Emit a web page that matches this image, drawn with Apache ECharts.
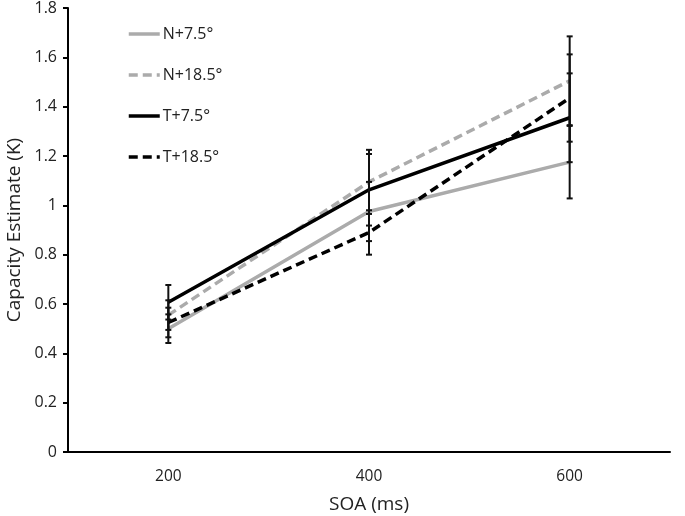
<!DOCTYPE html>
<html><head><meta charset="utf-8">
<script src="https://cdn.jsdelivr.net/npm/echarts@6/dist/echarts.min.js"></script>
<style>html,body{margin:0;padding:0;background:#fff}#c{width:685px;height:516px}</style>
</head><body><div id="c"></div>
<script>
var categories = ['200', '400', '600'];
var seriesNames = ['N+7.5°', 'N+18.5°', 'T+7.5°', 'T+18.5°'];
var n75 = [0.50, 0.975, 1.175];
var n185 = [0.555, 1.095, 1.505];
var t75 = [0.607, 1.063, 1.355];
var t185 = [0.525, 0.89, 1.435];
var n75Err = [0.058, 0.12, 0.147];
var n185Err = [0.06, 0.13, 0.18];
var t75Err = [0.07, 0.145, 0.18];
var t185Err = [0.06, 0.09, 0.177];
var yTicks = [0, 0.2, 0.4, 0.6, 0.8, 1, 1.2, 1.4, 1.6, 1.8];

var FONT = 'Open Sans';
var GRAY = '#ababab';
var means = [n75, n185, t75, t185];
var errs = [n75Err, n185Err, t75Err, t185Err];
var colors = [GRAY, GRAY, '#000', '#000'];
var types = ['solid', [9, 5], 'solid', [9, 5]];

var errData = [];
for (var s = 0; s < 4; s++) {
  for (var i = 0; i < categories.length; i++) {
    errData.push([i, means[s][i] - errs[s][i], means[s][i] + errs[s][i]]);
  }
}

var series = [];
series.push({
  type: 'custom',
  name: 'err',
  z: 5,
  data: errData,
  renderItem: function (params, api) {
    var x = api.value(0);
    var lo = api.coord([x, api.value(1)]);
    var hi = api.coord([x, api.value(2)]);
    var w = 3;
    var st = {stroke: '#111', lineWidth: 2};
    return {type: 'group', children: [
      {type: 'line', shape: {x1: lo[0], y1: lo[1], x2: hi[0], y2: hi[1]}, style: st},
      {type: 'line', shape: {x1: lo[0] - w, y1: lo[1], x2: lo[0] + w, y2: lo[1]}, style: st},
      {type: 'line', shape: {x1: hi[0] - w, y1: hi[1], x2: hi[0] + w, y2: hi[1]}, style: st}
    ]};
  }
});
for (var k = 0; k < 4; k++) {
  series.push({
    type: 'line',
    name: seriesNames[k],
    data: means[k],
    symbol: 'none',
    legendIcon: 'none',
    z: 3,
    lineStyle: {color: colors[k], width: 3.5, type: types[k]},
    itemStyle: {color: colors[k]}
  });
}

var chart = echarts.init(document.getElementById('c'));
chart.setOption({
  animation: false,
  textStyle: {fontFamily: FONT},
  grid: {left: 68, right: 15, top: 8, bottom: 64, containLabel: false, outerBoundsMode: 'none'},
  legend: {
    data: seriesNames.map(function (n) { return {name: n}; }),
    orient: 'vertical',
    left: 122,
    top: 21,
    itemWidth: 31,
    itemHeight: 14,
    itemGap: 25,
    itemStyle: {opacity: 0},
    lineStyle: {width: 3.5},
    textStyle: {fontFamily: FONT, fontSize: 16, color: '#222', padding: [0, 0, 0, -2]}
  },
  xAxis: {
    type: 'category',
    data: categories,
    boundaryGap: true,
    name: 'SOA (ms)',
    nameLocation: 'middle',
    nameGap: 43,
    nameTextStyle: {fontFamily: FONT, fontSize: 19, color: '#222'},
    axisLine: {lineStyle: {color: '#000', width: 2}},
    axisTick: {show: false},
    axisLabel: {fontFamily: FONT, fontSize: 15.5, color: '#222', margin: 17}
  },
  yAxis: {
    type: 'value',
    min: 0, max: 1.8, interval: 0.2,
    name: 'Capacity Estimate (K)',
    nameLocation: 'middle',
    nameGap: 44,
    nameTextStyle: {fontFamily: FONT, fontSize: 19, color: '#222'},
    axisLine: {show: true, lineStyle: {color: '#000', width: 2}},
    axisTick: {show: true, length: 5, lineStyle: {color: '#000', width: 2}},
    splitLine: {show: false},
    axisLabel: {fontFamily: FONT, fontSize: 16, color: '#222', margin: 11,
      formatter: function (v) { return String(Math.round(v * 10) / 10); }}
  },
  series: series
});
</script></body></html>
